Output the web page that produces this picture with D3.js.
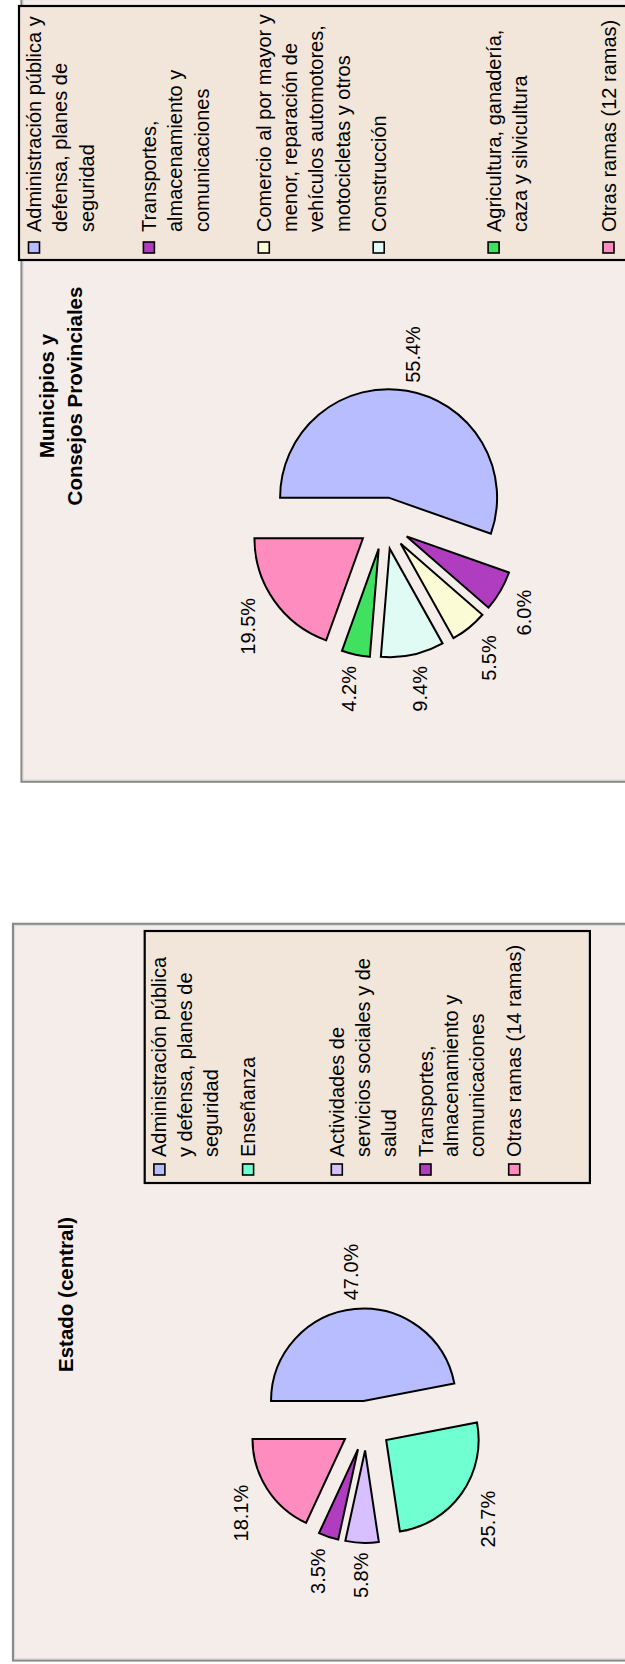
<!DOCTYPE html>
<html><head><meta charset="utf-8">
<script src="https://cdn.jsdelivr.net/npm/d3@7"></script>
<style>
body{margin:0;background:#fff}
svg{display:block}
text{font-family:"Liberation Sans",Arial,sans-serif;fill:#000}
</style>
</head><body>
<svg id="chart" width="625" height="1664"></svg>
<script>
// ---------- DATA ----------
const municipiosTitle = ["Municipios y", "Consejos Provinciales"];
const municipiosCategories = [
  "Administración pública y\ndefensa, planes de\nseguridad",
  "Transportes,\nalmacenamiento y\ncomunicaciones",
  "Comercio al por mayor y\nmenor, reparación de\nvehículos automotores,\nmotocicletas y otros",
  "Construcción",
  "Agricultura, ganadería,\ncaza y silvicultura",
  "Otras ramas (12 ramas)"
];
const municipiosValues = [55.4, 6.0, 5.5, 9.4, 4.2, 19.5];
const municipiosColors = ["#b8bdff", "#b03cc0", "#fbfbd6", "#e0fbf4", "#40e060", "#ff8cbe"];

const estadoTitle = ["Estado (central)"];
const estadoCategories = [
  "Administración pública\ny defensa, planes de\nseguridad",
  "Enseñanza",
  "Actividades de\nservicios sociales y de\nsalud",
  "Transportes,\nalmacenamiento y\ncomunicaciones",
  "Otras ramas (14 ramas)"
];
const estadoValues = [47.0, 25.7, 5.8, 3.5, 18.1];
const estadoColors = ["#b8bdff", "#70ffd0", "#d8c0ff", "#b03cc0", "#ff8cbe"];

// ---------- LAYOUT ----------
const svg = d3.select("#chart");
const FONT = 20;

const panels = [
  {
    title: municipiosTitle, cats: municipiosCategories, vals: municipiosValues, cols: municipiosColors,
    frame: {x0: 21.5, y0: -2, x1: 720, y1: 781.7},
    legend: {x0: 19, y0: 6, x1: 720, y1: 260, firstX: 34, step: 114.9, lineH: 26.3, textY: 232, markY: 242},
    titleX: 60, titleY: 396, titleLH: 28,
    pie: {cx: 384.2, cy: 523.3, r: 108.5, d: 26}
  },
  {
    title: estadoTitle, cats: estadoCategories, vals: estadoValues, cols: estadoColors,
    frame: {x0: 13, y0: 923.8, x1: 720, y1: 1660.5},
    legend: {x0: 144.7, y0: 931, x1: 589.9, y1: 1183, firstX: 159.4, step: 88.7, lineH: 25.9, textY: 1157, markY: 1164},
    titleX: 65.8, titleY: 1294.5, titleLH: 28,
    pie: {cx: 365.9, cy: 1425.7, r: 92.5, d: 24.8}
  }
];

function rotText(g, x, y, str, opts = {}) {
  return g.append("text")
    .attr("transform", `translate(${x},${y}) rotate(-90)`)
    .attr("text-anchor", opts.anchor || "start")
    .attr("dominant-baseline", "central")
    .style("font-size", (opts.size || FONT) + "px")
    .style("font-weight", opts.weight || "normal")
    .text(str);
}

panels.forEach(p => {
  const g = svg.append("g");
  const f = p.frame;
  // frame
  g.append("rect").attr("x", f.x0).attr("y", f.y0).attr("width", f.x1 - f.x0).attr("height", f.y1 - f.y0)
    .attr("fill", "#f5edea").attr("stroke", "#8a8a8a").attr("stroke-width", 2.2);
  g.append("rect").attr("x", f.x0 + 1.6).attr("y", f.y0 + 1.6).attr("width", f.x1 - f.x0 - 3.2).attr("height", f.y1 - f.y0 - 3.2)
    .attr("fill", "none").attr("stroke", "#d8d4d2").attr("stroke-width", 1);

  // legend box
  const L = p.legend;
  g.append("rect").attr("x", L.x0).attr("y", L.y0).attr("width", L.x1 - L.x0).attr("height", L.y1 - L.y0)
    .attr("fill", "#f2e6da").attr("stroke", "#000").attr("stroke-width", 2.2);

  p.cats.forEach((c, i) => {
    const x = L.firstX + i * L.step;
    g.append("rect").attr("x", x - 5.5).attr("y", L.markY).attr("width", 11).attr("height", 11)
      .attr("fill", p.cols[i]).attr("stroke", "#000").attr("stroke-width", 1.6);
    c.split("\n").forEach((line, k) => {
      rotText(g, x + k * L.lineH, L.textY, line, {anchor: "start"});
    });
  });

  // title
  const nT = p.title.length;
  p.title.forEach((t, k) => {
    rotText(g, p.titleX + (k - (nT - 1) / 2) * p.titleLH, p.titleY, t, {size: 20.5, weight: "bold", anchor: "middle"});
  });

  // pie (exploded slices)
  const P = p.pie;
  const pie = d3.pie().sort(null).value(d => d).startAngle(-Math.PI / 2).endAngle(3 * Math.PI / 2);
  const arcs = pie(p.vals);
  const arc = d3.arc().innerRadius(0).outerRadius(P.r);
  const pg = g.append("g").attr("transform", `translate(${P.cx},${P.cy})`);
  pg.selectAll("path").data(arcs).join("path")
    .attr("transform", d => {
      const a = (d.startAngle + d.endAngle) / 2;
      return `translate(${P.d * Math.sin(a)},${-P.d * Math.cos(a)})`;
    })
    .attr("d", arc)
    .attr("fill", (d, i) => p.cols[i])
    .attr("stroke", "#000").attr("stroke-width", 2)
    .attr("stroke-linejoin", "miter");

  // percentage labels outside each slice
  arcs.forEach(d => {
    const a = (d.startAngle + d.endAngle) / 2;
    const label = d3.format(".1f")(d.data) + "%";
    const t = rotText(g, 0, 0, label, {anchor: "middle"});
    const len = t.node().getComputedTextLength();
    const dist = P.r + P.d + 9 + 8 * Math.abs(Math.sin(a)) + (len / 2) * Math.abs(Math.cos(a));
    const x = P.cx + dist * Math.sin(a);
    const y = P.cy - dist * Math.cos(a) + 9 * Math.abs(Math.sin(a));
    t.attr("transform", `translate(${x},${y}) rotate(-90)`);
  });
});
</script>
</body></html>
